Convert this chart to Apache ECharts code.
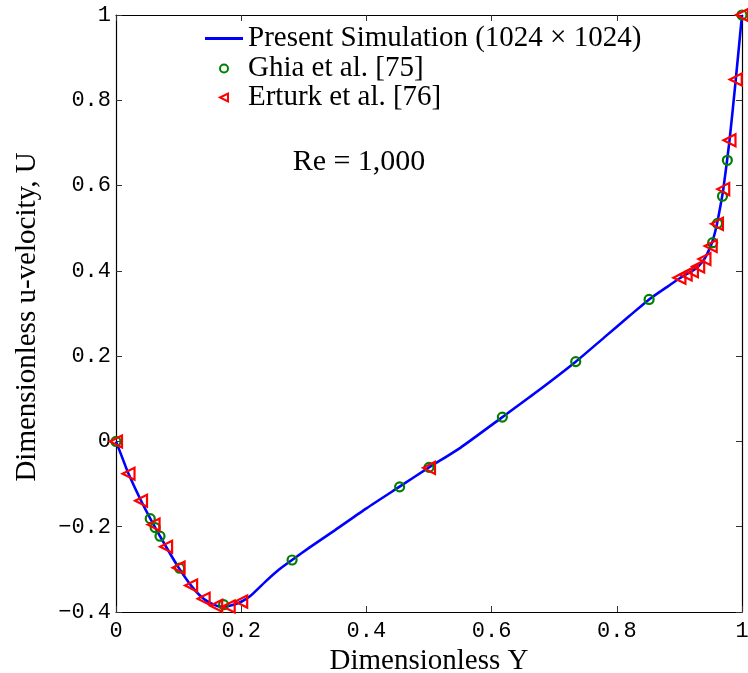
<!DOCTYPE html>
<html>
<head>
<meta charset="utf-8">
<script src="https://cdn.jsdelivr.net/npm/echarts@6/dist/echarts.min.js"></script>
<style>
html,body{margin:0;padding:0;background:#fff;}
#chart{width:748px;height:673px;}
</style>
</head>
<body>
<div id="chart"></div>
<script>
// Present simulation
var simY = [0, 0.01, 0.02, 0.04, 0.06, 0.08, 0.10, 0.12, 0.14, 0.16, 0.17, 0.18, 0.19, 0.20, 0.215, 0.24, 0.26, 0.2813, 0.31, 0.35, 0.40, 0.4531, 0.50, 0.55, 0.6172, 0.67, 0.7344, 0.78, 0.82, 0.8516, 0.88, 0.90, 0.91, 0.92, 0.93, 0.94, 0.95, 0.955, 0.96, 0.965, 0.97, 0.98, 0.99, 1.0];
var simU = [0, -0.038, -0.076, -0.139, -0.195, -0.247, -0.296, -0.338, -0.369, -0.385, -0.3875, -0.386, -0.382, -0.376, -0.362, -0.327, -0.301, -0.278, -0.248, -0.208, -0.157, -0.106, -0.061, -0.015, 0.057, 0.114, 0.187, 0.244, 0.294, 0.333, 0.362, 0.382, 0.391, 0.399, 0.410, 0.428, 0.458, 0.480, 0.510, 0.548, 0.590, 0.705, 0.848, 1.0];
// Ghia et al. [75]
var ghiaY = [1.0000, 0.9766, 0.9688, 0.9609, 0.9531, 0.8516, 0.7344, 0.6172, 0.5000, 0.4531, 0.2813, 0.1719, 0.1016, 0.0703, 0.0625, 0.0547, 0.0000];
var ghiaU = [1.0000, 0.6593, 0.5749, 0.5112, 0.4660, 0.3330, 0.1872, 0.0570, -0.0608, -0.1065, -0.2781, -0.3829, -0.2973, -0.2222, -0.2020, -0.1811, 0.0000];
// Erturk et al. [76]
var erturkY = [0.00, 0.02, 0.04, 0.06, 0.08, 0.10, 0.12, 0.14, 0.16, 0.18, 0.20, 0.50, 0.90, 0.91, 0.92, 0.93, 0.94, 0.95, 0.96, 0.97, 0.98, 0.99, 1.00];
var erturkU = [0.0, -0.0757, -0.1392, -0.1951, -0.2472, -0.2960, -0.3381, -0.3690, -0.3854, -0.3869, -0.3756, -0.0620, 0.3838, 0.3913, 0.3993, 0.4101, 0.4276, 0.4582, 0.5102, 0.5917, 0.7065, 0.8486, 1.0];

var xTickLabels = ['0', '0.2', '0.4', '0.6', '0.8', '1'];
var yTickLabels = ['\u22120.4', '\u22120.2', '0', '0.2', '0.4', '0.6', '0.8', '1'];

var seriesNames = ['Present Simulation (1024 \u00d7 1024)', 'Ghia et al. [75]', 'Erturk et al. [76]'];

function zip(a, b) { return a.map(function (v, i) { return [v, b[i]]; }); }

var monoFont = 'Liberation Mono';
var serifFont = 'Liberation Serif';

var tickStyle = { show: true, inside: true, length: 6, lineStyle: { color: '#333', width: 1 } };
var lineStyleAxis = { show: true, onZero: false, lineStyle: { color: '#000', width: 1.2 } };

var chart = echarts.init(document.getElementById('chart'), null, { renderer: 'canvas' });
chart.setOption({
  animation: false,
  backgroundColor: '#fff',
  grid: { left: 116, right: 6, top: 15, bottom: 61, containLabel: false, outerBoundsMode: 'none' },
  xAxis: [{
    type: 'value', min: 0, max: 1, interval: 0.2, position: 'bottom',
    axisLine: lineStyleAxis, axisTick: tickStyle, splitLine: { show: false },
    axisLabel: {
      margin: 8, color: '#000', fontFamily: monoFont, fontSize: 22,
      formatter: function (v) { return xTickLabels[Math.round(v / 0.2)]; }
    },
    name: 'Dimensionless Y', nameLocation: 'middle', nameGap: 28,
    nameTextStyle: { fontFamily: serifFont, fontSize: 29, color: '#000' }
  }, {
    type: 'value', min: 0, max: 1, interval: 0.2, position: 'top',
    axisLine: lineStyleAxis, axisTick: tickStyle, axisLabel: { show: false }, splitLine: { show: false }
  }],
  yAxis: [{
    type: 'value', min: -0.4, max: 1, interval: 0.2, position: 'left',
    axisLine: lineStyleAxis, axisTick: tickStyle, splitLine: { show: false },
    axisLabel: {
      margin: 5, color: '#000', fontFamily: monoFont, fontSize: 22,
      formatter: function (v) { return yTickLabels[Math.round((v + 0.4) / 0.2)]; }
    }
  }, {
    type: 'value', min: -0.4, max: 1, interval: 0.2, position: 'right',
    axisLine: lineStyleAxis, axisTick: tickStyle, axisLabel: { show: false }, splitLine: { show: false }
  }],
  legend: [{
    orient: 'vertical', left: 205, top: 24, padding: 0, itemWidth: 38, itemHeight: 3,
    textStyle: { fontFamily: serifFont, fontSize: 29, color: '#000' },
    data: [{ name: seriesNames[0], icon: 'rect' }]
  }, {
    orient: 'vertical', left: 205, top: 54, padding: 0, itemWidth: 38, itemHeight: 10, itemGap: 0,
    textStyle: { fontFamily: serifFont, fontSize: 29, color: '#000' },
    data: [seriesNames[1], seriesNames[2]]
  }],
  graphic: [{
    type: 'text', x: 359, y: 162,
    style: { text: 'Re = 1,000', font: '30px "Liberation Serif"', fill: '#000', align: 'center', verticalAlign: 'middle' }
  }, {
    type: 'text', x: 27, y: 317, rotation: Math.PI / 2,
    style: { text: 'Dimensionless u-velocity, U', font: '29px "Liberation Serif"', fill: '#000', align: 'center', verticalAlign: 'middle' }
  }],
  series: [{
    name: seriesNames[0], type: 'line', data: zip(simY, simU),
    symbol: 'none', smooth: 0.2,
    lineStyle: { color: '#0000ff', width: 2.6 }, itemStyle: { color: '#0000ff' }, z: 2
  }, {
    name: seriesNames[1], type: 'line', data: zip(ghiaY, ghiaU),
    symbol: 'circle', symbolSize: 9, showSymbol: true,
    lineStyle: { width: 0, opacity: 0 },
    itemStyle: { color: 'rgba(0,0,0,0)', borderColor: '#008000', borderWidth: 2.2 }, z: 3
  }, {
    name: seriesNames[2], type: 'line', data: zip(erturkY, erturkU),
    symbol: 'triangle', symbolSize: [12, 12], symbolRotate: 90, showSymbol: true,
    lineStyle: { width: 0, opacity: 0 },
    itemStyle: { color: 'rgba(0,0,0,0)', borderColor: '#ff0000', borderWidth: 2.2 }, z: 4
  }]
});
</script>
</body>
</html>
